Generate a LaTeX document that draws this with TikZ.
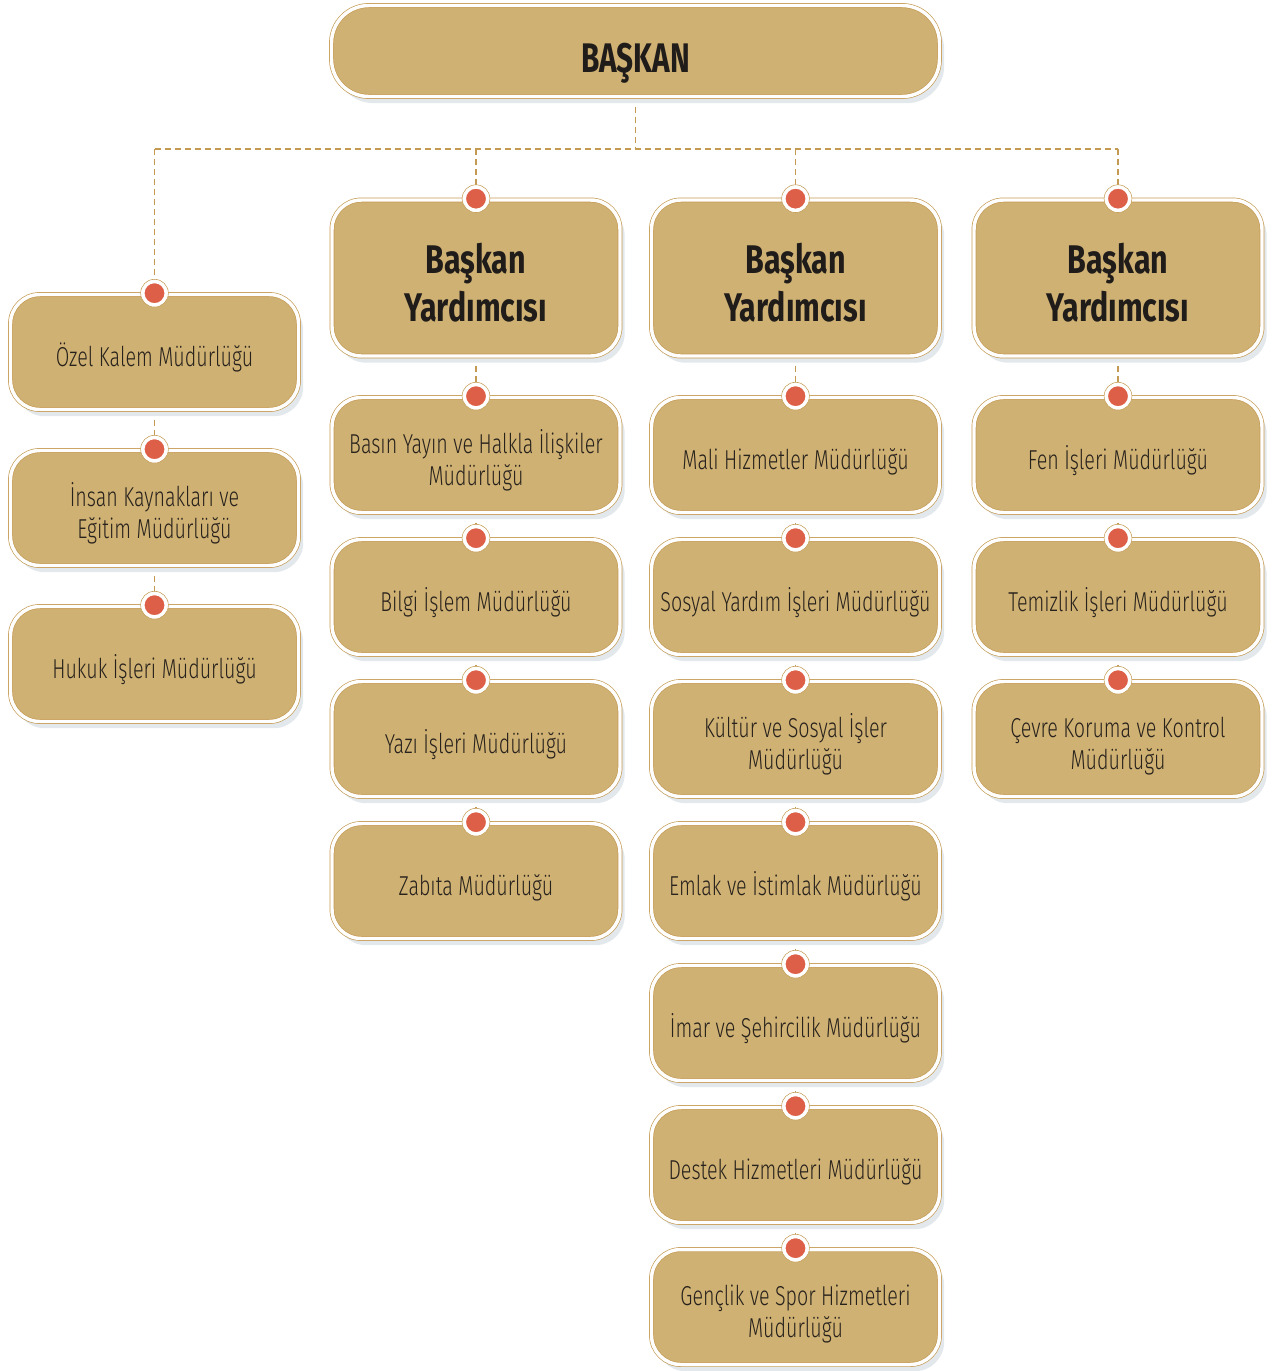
\documentclass[tikz,border=0pt]{standalone}
\usepackage{fontspec}
\setmainfont{Fira Sans}
\newfontfamily\regfont[FakeStretch=0.72]{Fira Sans Light}
\newfontfamily\boldfont[FakeStretch=0.76]{Fira Sans}
\newfontfamily\topfont[FakeStretch=0.72]{Fira Sans}
\usetikzlibrary{shadows}
\pgfdeclarelayer{back}
\pgfdeclarelayer{bg}
\pgfsetlayers{back,bg,main}
\definecolor{tanfill}{RGB}{207,177,116}
\definecolor{tanline}{RGB}{196,154,82}
\definecolor{reddot}{RGB}{222,95,72}
\definecolor{shadowc}{RGB}{227,232,236}
\definecolor{textc}{RGB}{40,34,28}
\definecolor{boldc}{RGB}{32,28,26}
\tikzset{
  box/.style={rectangle, rounded corners=22pt, fill=tanfill, draw=tanline,
    line width=0.5pt, double=white, double distance=2.6pt,
    minimum width=216pt, minimum height=86.25pt, inner sep=0pt, outer sep=0pt,
    align=center, text=textc, font=\regfont\fontsize{20.5}{24}\selectfont,
    execute at begin node={\rule{0pt}{1.3em}},
    execute at end node={\rule[-0.25em]{0pt}{0.25em}},
    drop shadow={shadow xshift=3.5pt, shadow yshift=-5pt, fill=shadowc, opacity=1}},
  boxtwo/.style={box, execute at begin node={\rule{0pt}{2.47em}}},
  vbox/.style={box, minimum height=117pt, text=boldc,
    font=\boldfont\bfseries\fontsize{30}{36}\selectfont,
    execute at begin node={\rule{0pt}{2.4em}}},
  topbox/.style={box, minimum width=456pt, minimum height=68.25pt, rounded corners=28pt,
    text=boldc, font=\topfont\bfseries\fontsize{31}{36}\selectfont,
    execute at begin node={\rule{0pt}{1.12em}}},
  conn/.style={draw=tanline, line width=1pt, dash pattern=on 4.5pt off 3pt}
}
\begin{document}
\begin{tikzpicture}[x=0.75pt,y=-0.75pt]
\begin{pgfonlayer}{back}
\fill[white] (0,0) rectangle (1274,1371);
\end{pgfonlayer}
\useasboundingbox (0,0) rectangle (1274,1371);
% top
\node[topbox] (baskan) at (635.5,51) {BAŞKAN};
% column 1
\node[box] (ozel)  at (154.5,352) {Özel Kalem Müdürlüğü};
\node[boxtwo] (insan) at (154.5,508) {İnsan Kaynakları ve\\Eğitim Müdürlüğü};
\node[box] (hukuk) at (154.5,664) {Hukuk İşleri Müdürlüğü};
% column 2
\node[vbox] (by1) at (476,278) {Başkan\\Yardımcısı};
\node[boxtwo] (basin) at (476,455) {Basın Yayın ve Halkla İlişkiler\\Müdürlüğü};
\node[box] (bilgi) at (476,597) {Bilgi İşlem Müdürlüğü};
\node[box] (yazi)  at (476,739) {Yazı İşleri Müdürlüğü};
\node[box] (zabita) at (476,881) {Zabıta Müdürlüğü};
% column 3
\node[vbox] (by2) at (795.5,278) {Başkan\\Yardımcısı};
\node[box] (mali)   at (795.5,455) {Mali Hizmetler Müdürlüğü};
\node[box] (sosyal) at (795.5,597) {Sosyal Yardım İşleri Müdürlüğü};
\node[boxtwo] (kultur) at (795.5,739) {Kültür ve Sosyal İşler\\Müdürlüğü};
\node[box] (emlak)  at (795.5,881) {Emlak ve İstimlak Müdürlüğü};
\node[box] (imar)   at (795.5,1023) {İmar ve Şehircilik Müdürlüğü};
\node[box] (destek) at (795.5,1165) {Destek Hizmetleri Müdürlüğü};
\node[boxtwo] (genclik) at (795.5,1307) {Gençlik ve Spor Hizmetleri\\Müdürlüğü};
% column 4
\node[vbox] (by3) at (1118,278) {Başkan\\Yardımcısı};
\node[box] (fen)      at (1118,455) {Fen İşleri Müdürlüğü};
\node[box] (temizlik) at (1118,597) {Temizlik İşleri Müdürlüğü};
\node[boxtwo] (cevre)    at (1118,739) {Çevre Koruma ve Kontrol\\Müdürlüğü};
% junctions
\coordinate (jc) at (635.5,149);
\coordinate (jl) at (154.5,149);
\coordinate (jr) at (1118,149);
\begin{pgfonlayer}{bg}
\draw[conn] (baskan.south) -- (jc);
\draw[conn] (jl) -- (jr);
\draw[conn] (jl) -- (ozel.north);
\draw[conn] (by1.north |- jc) -- (by1.north);
\draw[conn] (by2.north |- jc) -- (by2.north);
\draw[conn] (by3.north |- jc) -- (by3.north);
\draw[conn] (ozel.south) -- (insan.north);
\draw[conn] (insan.south) -- (hukuk.north);
\draw[conn] (by1.south) -- (basin.north);
\draw[conn] (basin.south) -- (bilgi.north);
\draw[conn] (bilgi.south) -- (yazi.north);
\draw[conn] (yazi.south) -- (zabita.north);
\draw[conn] (by2.south) -- (mali.north);
\draw[conn] (mali.south) -- (sosyal.north);
\draw[conn] (sosyal.south) -- (kultur.north);
\draw[conn] (kultur.south) -- (emlak.north);
\draw[conn] (emlak.south) -- (imar.north);
\draw[conn] (imar.south) -- (destek.north);
\draw[conn] (destek.south) -- (genclik.north);
\draw[conn] (by3.south) -- (fen.north);
\draw[conn] (fen.south) -- (temizlik.north);
\draw[conn] (temizlik.south) -- (cevre.north);
\end{pgfonlayer}
% dots
\foreach \n in {ozel,insan,hukuk,by1,basin,bilgi,yazi,zabita,by2,mali,sosyal,kultur,emlak,imar,destek,genclik,by3,fen,temizlik,cevre}{
  \draw[tanline, line width=0.4pt, fill=white] ([yshift=1pt]\n.north) circle (10.4pt);
  \draw[white, line width=2.2pt, fill=reddot] ([yshift=1pt]\n.north) circle (8.6pt);
}
\end{tikzpicture}
\end{document}
